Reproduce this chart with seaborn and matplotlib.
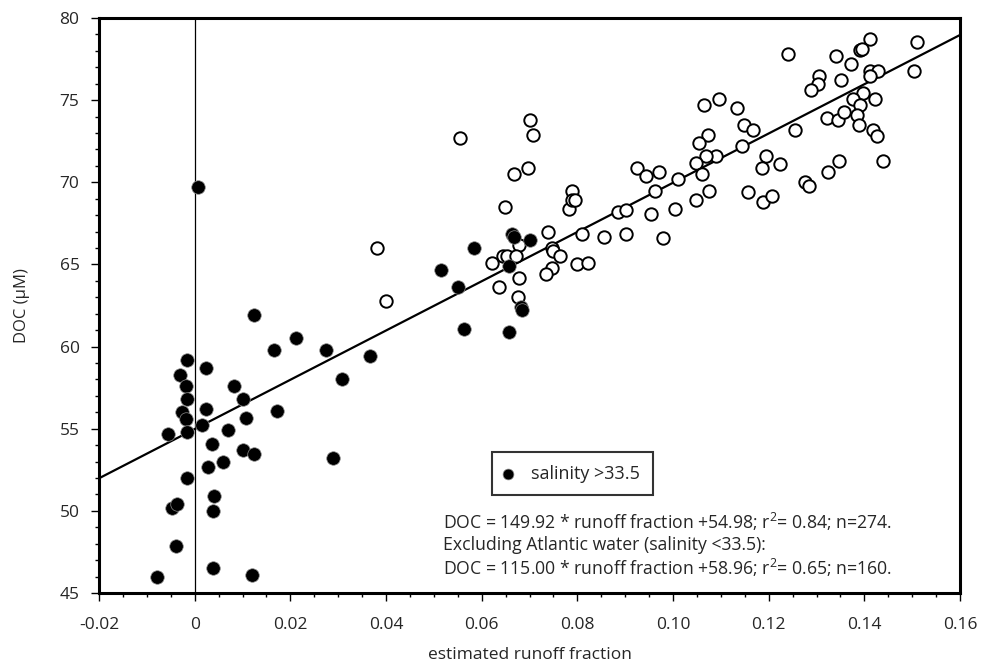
"""
DOC vs estimated runoff fraction, scatter with regression line
"""

import pandas as pd
import numpy as np
import matplotlib
matplotlib.use("Agg")
import matplotlib.pyplot as plt
from matplotlib.ticker import MultipleLocator
import seaborn as sns

# samples with salinity < 33.5 (open circles)
fresh_x = [0.0382, 0.0399, 0.0554, 0.0700, 0.0708, 0.0696, 0.0667, 0.0649, 0.0788, 0.0783,
           0.0789, 0.0796, 0.0925, 0.0943, 0.0971, 0.0963, 0.0884, 0.0902, 0.0954, 0.0980,
           0.0738, 0.0679, 0.0809, 0.0855, 0.0901, 0.0747, 0.0750, 0.0763, 0.0645, 0.0653,
           0.0672, 0.0621, 0.0799, 0.0822, 0.0747, 0.0734, 0.0679, 0.0637, 0.0675, 0.1010,
           0.1005, 0.1511, 0.1503, 0.1411, 0.1390, 0.1395, 0.1340, 0.1373, 0.1241, 0.1306,
           0.1303, 0.1289, 0.1352, 0.1411, 0.1428, 0.1412, 0.1398, 0.1377, 0.1391, 0.1423,
           0.1322, 0.1345, 0.1358, 0.1384, 0.1389, 0.1419, 0.1427, 0.1440, 0.1347, 0.1324,
           0.1277, 0.1285, 0.1256, 0.1194, 0.1186, 0.1223, 0.1156, 0.1189, 0.1207, 0.1134,
           0.1149, 0.1168, 0.1144, 0.1097, 0.1064, 0.1074, 0.1055, 0.1090, 0.1069, 0.1048,
           0.1060, 0.1076, 0.1048]
fresh_doc = [66.0, 62.8, 72.7, 73.8, 72.9, 70.9, 70.5, 68.5, 69.5, 68.4,
             68.9, 68.9, 70.9, 70.4, 70.6, 69.5, 68.2, 68.3, 68.1, 66.6,
             67.0, 66.2, 66.85, 66.7, 66.85, 66.0, 65.8, 65.5, 65.5, 65.5,
             65.5, 65.1, 65.0, 65.1, 64.8, 64.4, 64.2, 63.6, 63.0, 70.2,
             68.4, 78.55, 76.8, 78.7, 78.05, 78.1, 77.7, 77.2, 77.8, 76.5,
             76.0, 75.6, 76.2, 76.8, 76.8, 76.5, 75.45, 75.1, 74.7, 75.1,
             73.9, 73.8, 74.3, 74.1, 73.5, 73.2, 72.8, 71.3, 71.3, 70.6,
             70.0, 69.8, 73.2, 71.6, 70.9, 71.1, 69.4, 68.8, 69.15, 74.5,
             73.5, 73.2, 72.2, 75.1, 74.7, 72.85, 72.4, 71.6, 71.6, 71.2,
             70.5, 69.5, 68.9]

# samples with salinity > 33.5 (filled circles)
saline_x = [0.0123, 0.0211, 0.0166, 0.0274, 0.0366, -0.0017, 0.0023, -0.0031, -0.0019, 0.0082,
            0.0307, -0.0015, 0.0100, 0.0023, -0.0026, -0.0019, 0.0173, 0.0107, 0.0015, -0.0056,
            -0.0015, 0.0069, 0.0036, 0.0102, 0.0124, 0.0060, 0.0027, 0.0290, -0.0015, -0.0048,
            -0.0036, 0.0040, 0.0039, -0.0040, -0.0078, 0.0039, 0.0119, 0.0006, 0.0516, 0.0550,
            0.0583, 0.0563, 0.0658, 0.0664, 0.0667, 0.0700, 0.0658, 0.0683, 0.0685]
saline_doc = [61.9, 60.5, 59.8, 59.8, 59.4, 59.2, 58.7, 58.3, 57.6, 57.6,
              58.0, 56.8, 56.8, 56.2, 56.0, 55.6, 56.1, 55.65, 55.2, 54.7,
              54.8, 54.9, 54.1, 53.7, 53.45, 53.0, 52.7, 53.2, 52.0, 50.2,
              50.4, 50.9, 50.0, 47.85, 46.0, 46.5, 46.1, 69.7, 64.65, 63.6,
              66.0, 61.1, 60.9, 66.85, 66.7, 66.5, 64.9, 62.4, 62.2]

# regression (all data): DOC = 149.92 * runoff + 54.98
slope = 149.92
intercept = 54.98

x_ticks = [-0.02, 0, 0.02, 0.04, 0.06, 0.08, 0.10, 0.12, 0.14, 0.16]
x_tick_labels = ['-0.02', '0', '0.02', '0.04', '0.06', '0.08', '0.10', '0.12', '0.14', '0.16']
y_ticks = [45, 50, 55, 60, 65, 70, 75, 80]

sns.set_style('ticks')
plt.rcParams['font.family'] = ['Open Sans', 'DejaVu Sans']
plt.rcParams['mathtext.fontset'] = 'custom'
plt.rcParams['mathtext.rm'] = 'Open Sans'

fresh = pd.DataFrame({'runoff': fresh_x, 'DOC': fresh_doc})
saline = pd.DataFrame({'runoff': saline_x, 'DOC': saline_doc})

fig = plt.figure(figsize=(9.82, 6.66), dpi=100)
ax = fig.add_axes([99 / 982, 1 - 593 / 666, 861 / 982, 575 / 666])

# zero line and regression line
ax.axvline(0, color='black', lw=0.9, zorder=1)
line_x = np.array([-0.02, 0.16])
ax.plot(line_x, slope * line_x + intercept, color='black', lw=1.6, zorder=2)

sns.scatterplot(data=fresh, x='runoff', y='DOC', ax=ax, marker='o', s=80,
                facecolor='white', edgecolor='black', linewidth=1.4, zorder=3)
sns.scatterplot(data=saline, x='runoff', y='DOC', ax=ax, marker='o', s=95,
                color='black', edgecolor='0.55', linewidth=0.5, zorder=4,
                label='salinity >33.5')

ax.set_xlim(-0.02, 0.16)
ax.set_ylim(45, 80)
ax.set_xticks(x_ticks)
ax.set_xticklabels(x_tick_labels)
ax.set_yticks(y_ticks)
ax.xaxis.set_minor_locator(MultipleLocator(0.005))
ax.yaxis.set_minor_locator(MultipleLocator(1))
ax.tick_params(which='major', direction='out', length=6, width=1.0, labelsize=12.5, color='black')
ax.tick_params(axis='x', which='major', pad=11)
ax.tick_params(axis='y', which='major', pad=8)
ax.tick_params(which='minor', direction='out', length=3, width=1.0, color='black')

for side in ['left', 'bottom', 'top', 'right']:
    ax.spines[side].set_visible(True)
    ax.spines[side].set_linewidth(2.2)
    ax.spines[side].set_color('black')

ax.set_xlabel('estimated runoff fraction', fontsize=12.5)
ax.set_ylabel('DOC (µM)', fontsize=12)
ax.xaxis.set_label_coords(0.5, -0.094)
ax.yaxis.set_label_coords(-0.08, 0.5)

leg = ax.legend(loc='lower left', bbox_to_anchor=(0.457, 0.170), borderaxespad=0,
                frameon=True, fancybox=False, fontsize=13, handletextpad=1.15,
                handlelength=0.3, borderpad=0.7, markerscale=0.8)
leg.get_frame().set_edgecolor('black')
leg.get_frame().set_linewidth(1.5)

notes = ['DOC = 149.92 * runoff fraction +54.98; r$^{\\mathregular{2}}$= 0.84; n=274.',
         'Excluding Atlantic water (salinity <33.5):',
         'DOC = 115.00 * runoff fraction +58.96; r$^{\\mathregular{2}}$= 0.65; n=160.']
for i, note in enumerate(notes):
    ax.text(0.3995, 0.1235 - 0.04 * i, note, transform=ax.transAxes,
            fontsize=12.7, va='center', ha='left')

plt.savefig('out.png', dpi=100)
